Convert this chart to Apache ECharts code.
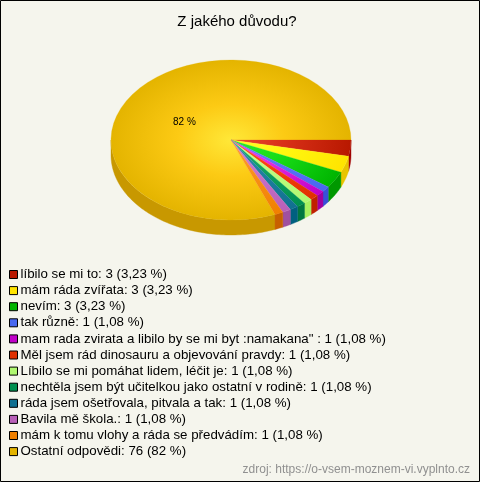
<!DOCTYPE html>
<html><head><meta charset="utf-8">
<style>html,body{margin:0;padding:0;background:#f5f5ed}#c{width:480px;height:482px}</style>
<script src="https://cdn.jsdelivr.net/npm/echarts@6/dist/echarts.min.js"></script>
</head><body><div id="c"></div>
<script>
const categories = ["líbilo se mi to","mám ráda zvířata","nevím","tak různě","mam rada zvirata a libilo by se mi byt :namakana\" ","Měl jsem rád dinosauru a objevování pravdy","Líbilo se mi pomáhat lidem, léčit je","nechtěla jsem být učitelkou jako ostatní v rodině","ráda jsem ošetřovala, pitvala a tak","Bavila mě škola.","mám k tomu vlohy a ráda se předvádím","Ostatní odpovědi"];
const values = [3,3,3,1,1,1,1,1,1,1,1,76];
const percents = ["3,23","3,23","3,23","1,08","1,08","1,08","1,08","1,08","1,08","1,08","1,08","82"];
const inner = ["#e84a30","#ffff28","#2cec2c","#6a80ff","#f040f0","#ff5020","#d0ff90","#20b070","#3090b0","#d080d8","#ffa030","#ffe838"];
const middle = ["#d83018","#fff810","#18dc18","#5a74f8","#e028e0","#f84010","#c0fc80","#10a060","#2080a0","#c870c8","#f89018","#fcca14"];
const outer = ["#b81800","#ffe400","#00b400","#4868f0","#c000c8","#e03000","#b0f870","#009050","#107090","#b860b8","#f08000","#e4b400"];
const walls = ["#a00000","#e8c400","#009800","#3850d8","#a000a0","#c02000","#a8f060","#007840","#006080","#a050a0","#c86000","#c89800"];

const CX=231, CY=140, RX=120, RY=80, DEPTH=15, SKEW=3.2*Math.PI/180;
const total = values.reduce((a,b)=>a+b,0);
// cumulative share → ellipse angle, with the slight projection skew seen in the lower half
const project=t=>t+SKEW*Math.sin(t)*Math.sin(t);
let run=0; const angles=[0];
values.forEach(v=>{run+=v; angles.push(project(run/total*Math.PI*2));});
const labels = categories.map((c,i)=>c+": "+values[i]+" ("+percents[i]+" %)");

function wallPts(a0,a1){
  const s=Math.max(a0,0), e=Math.min(a1,Math.PI);
  if(e<=s) return null;
  const top=[],bot=[];
  const n=Math.max(2,Math.ceil((e-s)/0.02));
  for(let k=0;k<=n;k++){
    const t=s+(e-s)*k/n, x=CX+RX*Math.cos(t), y=CY+RY*Math.sin(t);
    top.push([x,y]); bot.unshift([x,y+DEPTH]);
  }
  return top.concat(bot);
}
function render(i){
  return function(params,api){
    const a0=angles[i], a1=angles[i+1], children=[];
    const pts=wallPts(a0,a1);
    if(pts) children.push({type:'polygon',shape:{points:pts},style:{fill:walls[i],stroke:walls[i],lineWidth:0.4}});
    const g={type:'radial',x:0,y:0,r:RX,global:true,colorStops:[{offset:0,color:inner[i]},{offset:0.45,color:middle[i]},{offset:1,color:outer[i]}]};
    children.push({type:'sector',x:CX,y:CY,scaleY:RY/RX,
      shape:{cx:0,cy:0,r0:0,r:RX,startAngle:a0,endAngle:a1,clockwise:true},
      style:{fill:g,stroke:g,lineWidth:0.3}});
    if(percents[i]==="82"){
      const m=(a0+a1)/2;
      children.push({type:'text',x:CX+RX*0.47*Math.cos(m),y:CY+RY*0.40*Math.sin(m),
        style:{text:percents[i]+" %",fill:'#000',font:'10px "Liberation Sans"',align:'center',verticalAlign:'middle'}});
    }
    return {type:'group',children};
  };
}
const series = labels.map((name,i)=>({
  type:'custom',name,coordinateSystem:'none',silent:true,animation:false,
  z: i===11?1:2,
  data:[values[i]],itemStyle:{color:outer[i]},renderItem:render(i)
}));
const chart=echarts.init(document.getElementById('c'),null,{renderer:'canvas'});
chart.setOption({
  animation:false,backgroundColor:'#f5f5ed',
  title:{text:"Z jakého důvodu?",left:232,top:9,textAlign:'center',
    textStyle:{fontFamily:'Liberation Sans',fontSize:15,fontWeight:'normal',color:'#000'}},
  legend:{orient:'vertical',left:9,top:268,itemWidth:8,itemHeight:8,itemGap:3.1,padding:0,selectedMode:false,
    icon:'rect',data:labels.map((name,i)=>({name,itemStyle:{color:outer[i],borderColor:'#000',borderWidth:1}})),
    textStyle:{fontFamily:'Liberation Sans',fontSize:13.3,color:'#000',padding:[0,0,0,-2],lineHeight:13}},
  graphic:[
    {type:'rect',z:-1,silent:true,shape:{x:0.5,y:0.5,width:479,height:481},style:{fill:'none',stroke:'#000',lineWidth:1}},
    {type:'text',silent:true,right:10,top:464,style:{text:"zdroj: https://o-vsem-moznem-vi.vyplnto.cz",fill:'#909090',font:'12px "Liberation Sans"'}}
  ],
  series
});
</script></body></html>
